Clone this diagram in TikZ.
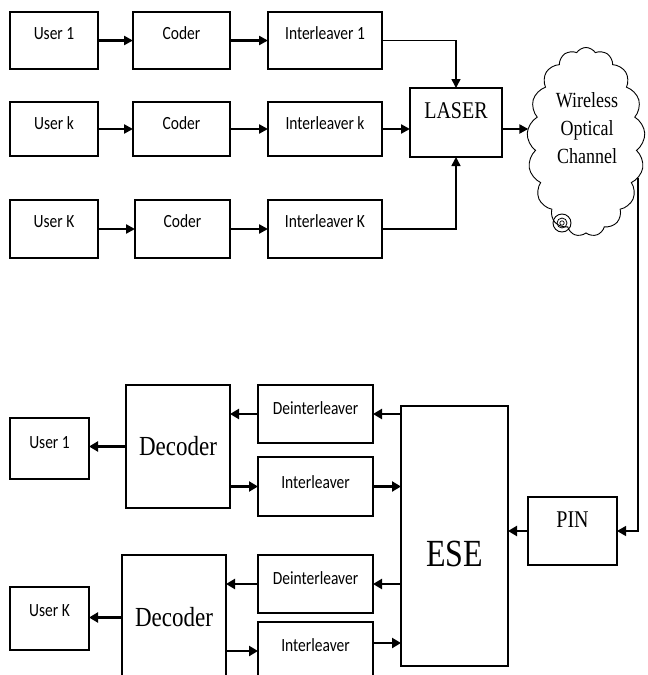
\documentclass[tikz,border=0pt]{standalone}
\usepackage{fontspec}
\setmainfont{Liberation Serif}
\newfontfamily\sansfam{Carlito}
\usepackage{graphicx}
\usetikzlibrary{arrows.meta,shapes.symbols,calc}
\newcommand{\vsc}[1]{\scalebox{1}[1.2]{#1}}
\begin{document}
\begin{tikzpicture}[x=1pt,y=-1pt,
  box/.style={draw, line width=1.2pt, inner sep=0pt, outer sep=0pt, anchor=north, align=center},
  sbox/.style={box, font=\sansfam\fontsize{15.5}{18}\selectfont, text height=#1},
  sbox/.default=27pt,
  serifbox/.style={box, font=\fontsize{#1}{#1}\selectfont},
  tipA/.style={-{Triangle[length=9pt,width=9pt]}},
  tipB/.style={-{Triangle[length=9pt,width=10pt]}},
  arrA/.style={line width=2.3pt, tipA},
  arrB/.style={line width=2.6pt, tipB},
  thinA/.style={line width=1.5pt, tipA}
]
\useasboundingbox (0,0) rectangle (648,675);
\clip (0,0) rectangle (648,675);
% top rows
\node[sbox, minimum width=88pt, text depth=30pt] (u1) at (54,12) {\vsc{User 1}};
\node[sbox, minimum width=97pt, text depth=30pt] (c1) at (181.5,12) {\vsc{Coder}};
\node[sbox, minimum width=114pt, text depth=30pt] (i1) at (325,12) {\vsc{Interleaver 1}};
\node[sbox, minimum width=88pt, text depth=27pt] (uk) at (54,102) {\vsc{User k}};
\node[sbox, minimum width=97pt, text depth=27pt] (ck) at (181.5,102) {\vsc{Coder}};
\node[sbox, minimum width=114pt, text depth=27pt] (ik) at (325,102) {\vsc{Interleaver k}};
\node[sbox, minimum width=88pt, text depth=31pt] (uK) at (54,200) {\vsc{User K}};
\node[sbox, minimum width=95pt, text depth=31pt] (cK) at (182.5,200) {\vsc{Coder}};
\node[sbox, minimum width=114pt, text depth=31pt] (iK) at (325,200) {\vsc{Interleaver K}};
% laser and cloud
\node[serifbox=20, minimum width=92pt, text height=30pt, text depth=39pt] (laser) at (456,88) {\vsc{LASER}};
\node[cloud, draw, line width=0.9pt, cloud puffs=17, cloud puff arc=115, cloud ignores aspect,
      minimum width=118pt, minimum height=189pt, inner sep=0pt] (cloud) at (586,142) {};
\node[font=\fontsize{18}{28}\selectfont, align=center, inner sep=0pt] (ctext) at (587,128)
  {\vsc{Wireless}\\\vsc{Optical}\\\vsc{Channel}};
\draw[line width=0.9pt] (562,223) circle[radius=9pt];
\draw[line width=0.8pt] (562,223) circle[radius=5pt];
\draw[line width=0.7pt] (562,223) circle[radius=2.2pt];
% receiver
\node[serifbox=20, minimum width=89pt, text height=30pt, text depth=38pt] (pin) at (572.5,497) {\vsc{PIN}};
\node[serifbox=32, minimum width=107pt, text height=160pt, text depth=100pt] (ese) at (454.5,406) {\vsc{ESE}};
\node[sbox=29pt, minimum width=115pt, text depth=29pt] (d1) at (315.5,385) {\vsc{Deinterleaver}};
\node[sbox=31pt, minimum width=115pt, text depth=28pt] (il1) at (315.5,457) {\vsc{Interleaver}};
\node[sbox=29pt, minimum width=115pt, text depth=29pt] (d2) at (315.5,555) {\vsc{Deinterleaver}};
\node[sbox=29pt, minimum width=115pt, text depth=29pt] (il2) at (315.5,622) {\vsc{Interleaver}};
\node[sbox=30pt, minimum width=79pt, text depth=31pt] (u1b) at (49.5,418) {\vsc{User 1}};
\node[sbox=29pt, minimum width=79pt, text depth=34pt] (uKb) at (49.5,587) {\vsc{User K}};
\node[serifbox=23, minimum width=104pt, minimum height=123pt] (dec1) at (178,385) {\vsc{Decoder}};
\node[serifbox=23, minimum width=104pt, minimum height=125pt] (dec2) at (174,555) {\vsc{Decoder}};
% transmitter arrows
\draw[arrA] (u1) -- (c1);
\draw[arrA] (c1) -- (i1);
\draw[arrA] (uk) -- (ck);
\draw[arrA] (ck) -- (ik);
\draw[arrA] (uK) -- (cK);
\draw[arrA] (cK) -- (iK);
\draw[thinA] (i1.east) -| (laser.north);
\draw[arrA] (ik.east) -- (ik.east -| laser.west);
\draw[thinA] (iK.east) -| (laser.south);
\draw[arrA] (laser.east |- ik.east) -- (cloud.west |- ik.east);
% channel to receiver
\draw[line width=1.2pt, tipB] (cloud.-35) |- (pin.east);
\draw[arrB] (pin.west) -- (pin.west -| ese.east);
\draw[arrB] (ese.west |- d1.east) -- (d1.east);
\draw[arrB] (d1.west) -- (d1.west -| dec1.east);
\draw[arrB] (dec1.east |- il1.west) -- (il1.west);
\draw[arrB] (il1.east) -- (il1.east -| ese.west);
\draw[arrB] (dec1.west) -- (dec1.west -| u1b.east);
\draw[arrB] (ese.west |- d2.east) -- (d2.east);
\draw[arrB] (d2.west) -- (d2.west -| dec2.east);
\draw[arrB] (dec2.east |- il2.west) -- (il2.west);
\draw[arrB] ([yshift=8pt]il2.east) -- ([yshift=8pt]il2.east -| ese.west);
\draw[arrB] (dec2.west) -- (dec2.west -| uKb.east);
\end{tikzpicture}
\end{document}
